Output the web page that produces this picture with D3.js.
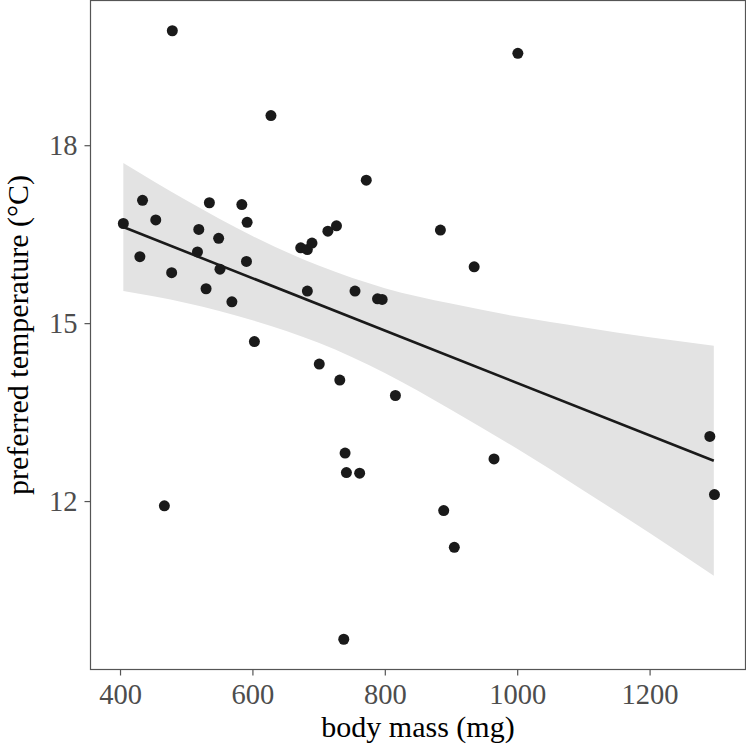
<!DOCTYPE html>
<html>
<head>
<meta charset="utf-8">
<script src="https://cdn.jsdelivr.net/npm/d3@7"></script>
<style>
  html, body { margin: 0; padding: 0; background: #fff; }
  svg { display: block; }
  text { font-family: "Liberation Serif", "DejaVu Serif", serif; }
</style>
</head>
<body>
<div class="chart"></div>
<script>
// body mass (mg) and preferred temperature (°C)
const mass = [405, 434, 430, 454, 467, 479, 478, 517, 519, 530, 535, 549, 551, 569, 584,
  592, 591, 603, 628, 673, 683, 690, 683, 701, 714, 727, 732, 738, 740, 742, 762, 755,
  772, 789, 796, 816, 884, 889, 905, 935, 965, 1001, 1291, 1298];
const temp = [16.68, 17.07, 16.12, 16.74, 11.92, 19.93, 15.85, 16.20, 16.58, 15.58, 17.03,
  16.43, 15.91, 15.36, 17.00, 16.70, 16.04, 14.69, 18.50, 16.27, 16.24, 16.35, 15.54, 14.31,
  16.55, 16.64, 14.04, 9.67, 12.81, 12.48, 12.47, 15.54, 17.41, 15.41, 15.40, 13.78, 16.57,
  11.84, 11.22, 15.95, 12.71, 19.55, 13.09, 12.11];

// fitted line and its confidence band
const fitX = [405, 1297];
const fitY = [16.62, 12.68];
const bandX = [405, 500, 600, 700, 800, 900, 1000, 1100, 1200, 1297];
const bandLow = [15.54, 15.34, 15.05, 14.67, 14.16, 13.54, 12.88, 12.18, 11.46, 10.74];
const bandHigh = [17.70, 17.07, 16.47, 15.97, 15.59, 15.33, 15.11, 14.93, 14.76, 14.62];

const xTicks = [400, 600, 800, 1000, 1200];
const yTicks = [12, 15, 18];

const W = 746, H = 746;
const panel = { left: 90.5, right: 745.5, top: 0.5, bottom: 669.5 };

const x = d3.scaleLinear().domain([355.4, 1344.9]).range([panel.left, panel.right]);
const y = d3.scaleLinear().domain([9.16, 20.44]).range([panel.bottom, panel.top]);

const svg = d3.select(".chart").append("svg")
  .attr("width", W)
  .attr("height", H);

// confidence band
const band = bandX.map((v, i) => ({ x: v, lo: bandLow[i], hi: bandHigh[i] }));
svg.append("path")
  .datum(band)
  .attr("fill", "#e3e3e3")
  .attr("d", d3.area()
    .x(d => x(d.x))
    .y0(d => y(d.lo))
    .y1(d => y(d.hi))
    .curve(d3.curveMonotoneX));

// points
const pts = mass.map((m, i) => ({ m, t: temp[i] }));
svg.append("g")
  .selectAll("circle")
  .data(pts)
  .enter()
  .append("circle")
  .attr("cx", d => x(d.m))
  .attr("cy", d => y(d.t))
  .attr("r", 5.5)
  .attr("fill", "#1a1a1a");

// regression line
svg.append("path")
  .datum(fitX.map((v, i) => [v, fitY[i]]))
  .attr("fill", "none")
  .attr("stroke", "#1a1a1a")
  .attr("stroke-width", 2.6)
  .attr("d", d3.line().x(d => x(d[0])).y(d => y(d[1])));

// panel border
svg.append("rect")
  .attr("x", panel.left)
  .attr("y", panel.top)
  .attr("width", panel.right - panel.left)
  .attr("height", panel.bottom - panel.top)
  .attr("fill", "none")
  .attr("stroke", "#555")
  .attr("stroke-width", 1.2);

// axes
const xAxis = svg.append("g")
  .attr("transform", `translate(0,${panel.bottom})`)
  .call(d3.axisBottom(x).tickValues(xTicks).tickFormat(d3.format("d"))
    .tickSize(6).tickPadding(8).tickSizeOuter(0));
xAxis.select(".domain").remove();

const yAxis = svg.append("g")
  .attr("transform", `translate(${panel.left},0)`)
  .call(d3.axisLeft(y).tickValues(yTicks).tickFormat(d3.format("d"))
    .tickSize(6).tickPadding(7).tickSizeOuter(0));
yAxis.select(".domain").remove();

svg.selectAll(".tick line").attr("stroke", "#555").attr("stroke-width", 1.2);
svg.selectAll(".tick text")
  .attr("fill", "#4d4d4d")
  .style("font-size", "28.5px")
  .style("font-family", "'Liberation Serif', serif");
yAxis.selectAll(".tick text").attr("dy", "0.32em");

// axis titles
svg.append("text")
  .attr("x", (panel.left + panel.right) / 2)
  .attr("y", 737)
  .attr("text-anchor", "middle")
  .attr("fill", "#000")
  .style("font-size", "30px")
  .text("body mass (mg)");

svg.append("text")
  .attr("transform", `translate(28,${(panel.top + panel.bottom) / 2}) rotate(-90)`)
  .attr("text-anchor", "middle")
  .attr("fill", "#000")
  .style("font-size", "30px")
  .text("preferred temperature (°C)");
</script>
</body>
</html>
